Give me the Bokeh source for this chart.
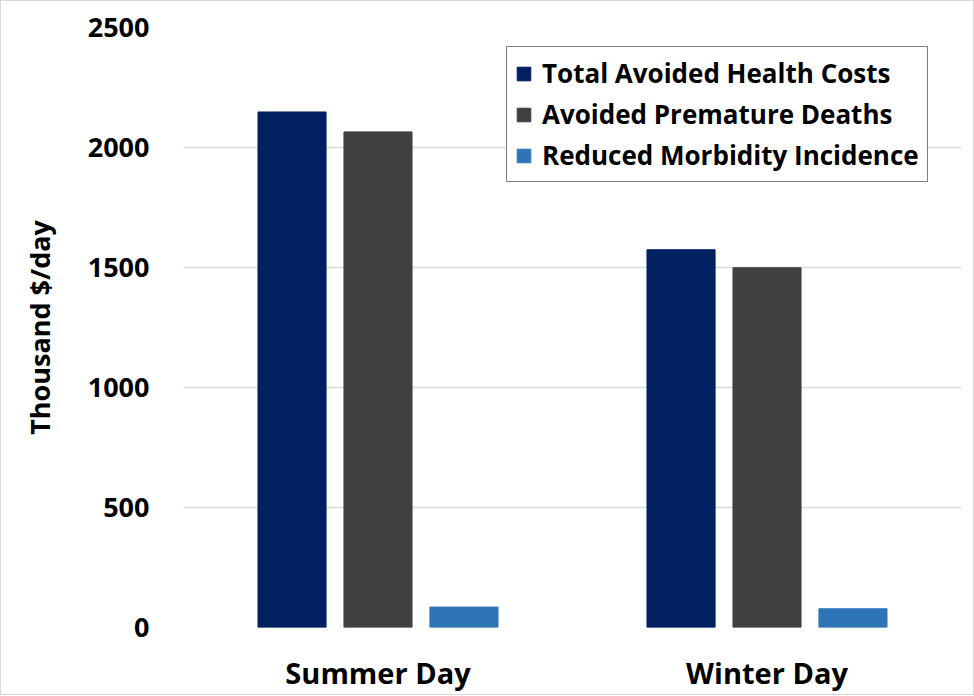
from bokeh.plotting import figure
from bokeh.models import FactorRange, ColumnDataSource, FixedTicker, Legend, LegendItem
from bokeh.transform import dodge
from bokeh.embed import file_html
from bokeh.resources import INLINE

categories = ["Summer Day", "Winter Day"]
total_costs = [2148, 1574]
premature_deaths = [2065, 1499]
morbidity = [85, 78]
series_names = ["Total Avoided Health Costs", "Avoided Premature Deaths", "Reduced Morbidity Incidence"]
colors = ["#002060", "#404040", "#2E75B6"]
y_ticks = [0, 500, 1000, 1500, 2000, 2500]

FONT = "Open Sans"

src = ColumnDataSource(dict(cat=categories, total=total_costs, deaths=premature_deaths, morb=morbidity))

p = figure(x_range=FactorRange(factors=categories, range_padding=0), y_range=(0, 2500),
           frame_width=778, frame_height=600,
           min_border_left=182, min_border_top=26, min_border_right=12, min_border_bottom=58,
           output_backend="svg", toolbar_location=None)
p.x_range.range_padding = 0

offsets = [-0.221, 0.0, 0.221]
fields = ["total", "deaths", "morb"]
renderers = []
for f, off, c in zip(fields, offsets, colors):
    r = p.vbar(x=dodge("cat", off, range=p.x_range), top=f, width=0.175, bottom=0,
               source=src, fill_color=c, line_color=c)
    renderers.append(r)

p.outline_line_color = None
p.xgrid.grid_line_color = None
p.ygrid.grid_line_color = "#D9D9D9"
p.ygrid.grid_line_width = 1.5
p.yaxis.ticker = FixedTicker(ticks=y_ticks)

for ax in (p.xaxis[0], p.yaxis[0]):
    ax.axis_line_color = None
    ax.major_tick_line_color = None
    ax.minor_tick_line_color = None
    ax.major_label_text_font = FONT
    ax.major_label_text_font_style = "bold"
    ax.major_label_text_color = "black"

p.yaxis.major_label_text_font_size = "27px"
p.yaxis.major_label_standoff = 28
p.xaxis.major_label_text_font_size = "29px"
p.xaxis.major_label_standoff = 19

p.yaxis.axis_label = "Thousand $/day"
p.yaxis.axis_label_text_font = FONT
p.yaxis.axis_label_text_font_style = "bold"
p.yaxis.axis_label_text_font_size = "27px"
p.yaxis.axis_label_text_color = "black"
p.yaxis.axis_label_standoff = 27

legend = Legend(items=[LegendItem(label=n, renderers=[r]) for n, r in zip(series_names, renderers)],
                location=(323, 445))
legend.label_text_font = FONT
legend.label_text_font_style = "bold"
legend.label_text_font_size = "26px"
legend.label_text_color = "black"
legend.glyph_width = 17
legend.glyph_height = 17
legend.label_height = 30
legend.label_standoff = 10
legend.spacing = 5
legend.padding = 8
legend.margin = 0
legend.border_line_color = "black"
legend.border_line_width = 1.5
legend.background_fill_alpha = 1
p.add_layout(legend, "center")

p.styles = {"border": "1px solid #D9D9D9"}

open("out.html", "w").write(file_html(p, INLINE))
